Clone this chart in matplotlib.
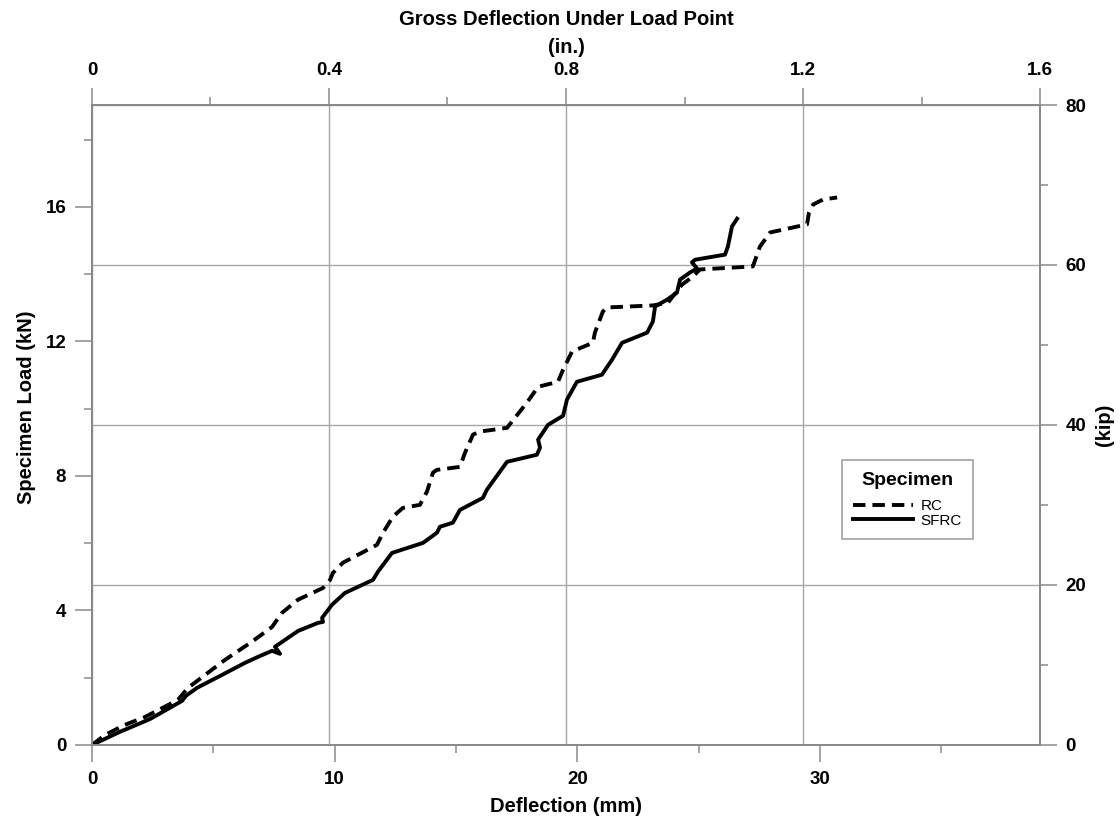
import matplotlib
matplotlib.use("Agg")
import matplotlib.pyplot as plt
from matplotlib.ticker import MultipleLocator, FuncFormatter

plt.rcParams['font.family'] = ['Liberation Sans', 'DejaVu Sans']

# Load-deflection response (deflection in mm, load in kN)
rc_defl = [0.00, 0.54, 1.36, 2.18, 3.54, 3.96, 5.48, 6.59, 7.42, 7.83, 8.49,
           9.52, 9.81, 9.93, 10.34, 11.74, 11.99, 12.40, 12.81, 13.51, 13.80,
           14.05, 14.21, 15.16, 15.37, 15.70, 15.99, 17.10, 17.92, 18.38,
           19.20, 19.41, 19.78, 20.64, 20.72, 21.05, 21.22, 23.11, 23.73,
           24.31, 24.76, 25.05, 27.23, 27.52, 27.94, 29.46, 29.54, 29.71,
           30.12, 30.70]
rc_load = [0.00, 0.30, 0.60, 0.83, 1.34, 1.70, 2.53, 3.07, 3.51, 3.93, 4.32,
           4.67, 4.91, 5.12, 5.42, 5.95, 6.31, 6.79, 7.05, 7.14, 7.53,
           8.10, 8.18, 8.27, 8.69, 9.23, 9.32, 9.43, 10.18, 10.65,
           10.80, 11.16, 11.70, 11.96, 12.26, 12.89, 13.01, 13.07, 13.15,
           13.69, 13.93, 14.14, 14.23, 14.82, 15.24, 15.48, 15.83, 16.07,
           16.22, 16.28]

sfrc_defl = [0.00, 1.15, 2.39, 3.71, 3.87, 4.33, 5.27, 6.30, 6.84, 7.42, 7.75,
             7.54, 8.49, 9.31, 9.52, 9.48, 9.89, 10.42, 11.58, 11.78, 12.36,
             13.64, 14.21, 14.34, 14.87, 15.16, 16.11, 16.27, 17.10, 18.33,
             18.46, 18.38, 18.79, 19.41, 19.57, 19.98, 21.01, 21.43, 21.84,
             22.87, 23.11, 23.20, 23.69, 24.10, 24.23, 24.64, 24.93, 24.72,
             24.85, 26.08, 26.20, 26.37, 26.58]
sfrc_load = [0.00, 0.39, 0.77, 1.31, 1.46, 1.70, 2.05, 2.44, 2.62, 2.80, 2.71,
             2.92, 3.39, 3.63, 3.66, 3.78, 4.17, 4.52, 4.91, 5.15, 5.71,
             6.01, 6.31, 6.49, 6.61, 6.99, 7.35, 7.59, 8.42, 8.63,
             8.84, 9.08, 9.52, 9.79, 10.27, 10.80, 11.01, 11.46, 11.96,
             12.26, 12.59, 13.04, 13.24, 13.45, 13.84, 14.05, 14.17, 14.35,
             14.43, 14.58, 14.82, 15.42, 15.65]

bottom_ticks = [0, 10, 20, 30]
left_ticks = [0, 4, 8, 12, 16]
top_ticks = [0, 0.4, 0.8, 1.2, 1.6]
right_ticks = [0, 20, 40, 60, 80]

SPINE = '#8a8a8a'
GRID = '#a6a6a6'
LABEL_SIZE = 14.5
TICK_SIZE = 13.5

fig = plt.figure(figsize=(11.2, 8.21), dpi=100)
ax = fig.add_axes([0.0821, 0.0926, 0.8465, 0.7795])
ax_top = ax.twiny()
ax_right = ax.twinx()

# data axes sit above the twins so the grid stays behind the curves
ax.set_zorder(3)
ax.patch.set_visible(False)

ax.plot(rc_defl, rc_load, color='black', lw=2.8, linestyle=(0, (3.2, 1.8)),
        label='RC')
ax.plot(sfrc_defl, sfrc_load, color='black', lw=2.8, label='SFRC')

ax.set_xlim(0, 39.06)
ax.set_ylim(0, 19.03)
ax_top.set_xlim(0, 1.6)
ax_right.set_ylim(0, 80)

ax.set_xticks(bottom_ticks)
ax.xaxis.set_minor_locator(MultipleLocator(5))
ax.set_yticks(left_ticks)
ax.yaxis.set_minor_locator(MultipleLocator(2))
ax_top.set_xticks(top_ticks)
ax_top.xaxis.set_minor_locator(MultipleLocator(0.2))
ax_top.xaxis.set_major_formatter(FuncFormatter(lambda v, p: '0' if v == 0 else f'{v:.1f}'))
ax_right.set_yticks(right_ticks)
ax_right.yaxis.set_minor_locator(MultipleLocator(10))

for a in (ax, ax_top, ax_right):
    for s in a.spines.values():
        s.set_color(SPINE)
        s.set_linewidth(1.4)
    a.tick_params(which='major', direction='out', length=12.5, width=1.1,
                  color=SPINE, pad=6, labelsize=TICK_SIZE)
    a.tick_params(which='minor', direction='out', length=6, width=1.1, color=SPINE)
    for lbl in a.get_xticklabels() + a.get_yticklabels():
        lbl.set_fontweight('bold')

ax_top.grid(axis='x', which='major', color=GRID, lw=1.0)
ax_right.grid(axis='y', which='major', color=GRID, lw=1.0)

ax.set_xlabel('Deflection (mm)', fontsize=LABEL_SIZE, fontweight='bold', labelpad=7)
ax.set_ylabel('Specimen Load (kN)', fontsize=LABEL_SIZE, fontweight='bold')
ax.yaxis.set_label_coords(-0.059, 0.528)
ax_top.set_xlabel('Gross Deflection Under Load Point\n(in.)', fontsize=LABEL_SIZE,
                  fontweight='bold', labelpad=6.5, linespacing=1.65)
ax_right.set_ylabel('(kip)', fontsize=LABEL_SIZE, fontweight='bold', labelpad=6)

leg = ax.legend(title='Specimen', loc='upper left', bbox_to_anchor=(0.791, 0.445),
                borderaxespad=0, fontsize=11,
                title_fontproperties={'weight': 'bold', 'size': 14},
                frameon=True, fancybox=False, edgecolor=SPINE, handlelength=3.9,
                handletextpad=0.5, borderpad=0.75, labelspacing=0.05)
leg.get_frame().set_linewidth(1.2)
# extra room between the legend title and its entries
leg._legend_box.sep = 7.5

fig.savefig('out.png', dpi=100)
